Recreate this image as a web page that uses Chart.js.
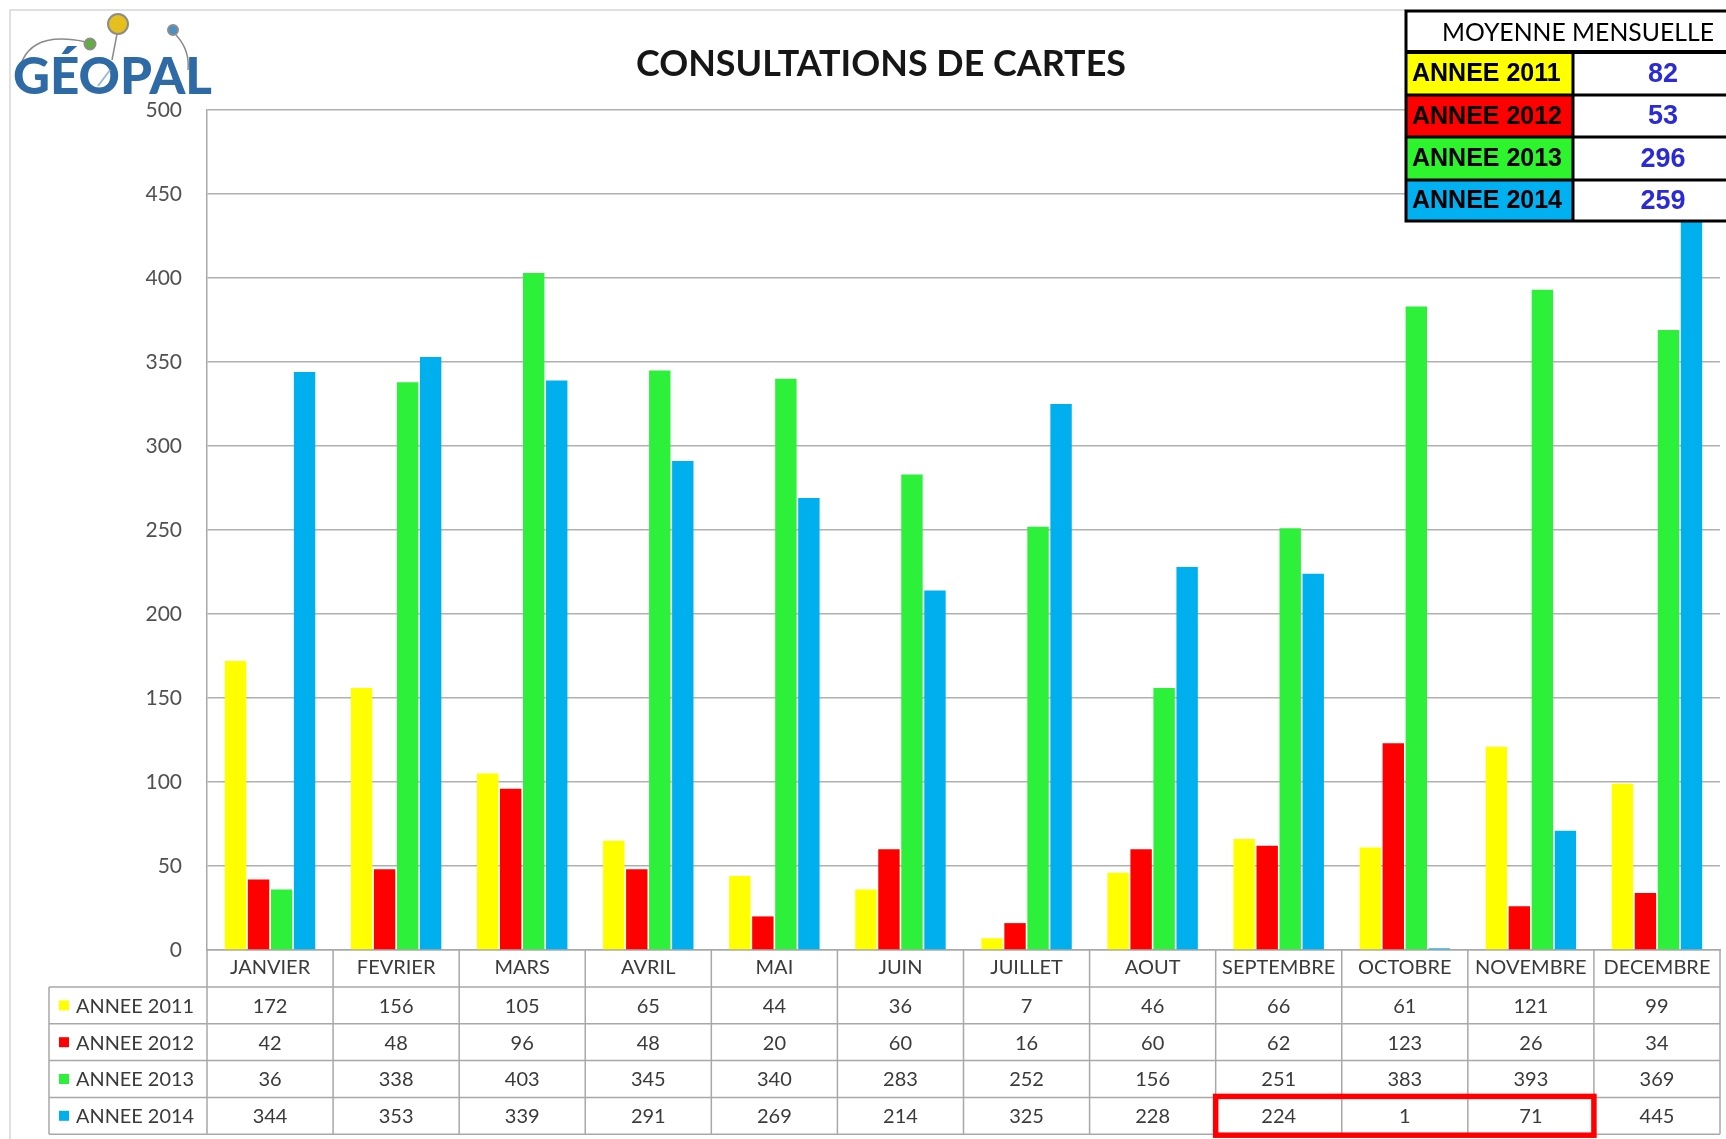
<!DOCTYPE html>
<html>
<head>
<meta charset="utf-8">
<script src="https://cdn.jsdelivr.net/npm/chart.js@4.4.1/dist/chart.umd.min.js"></script>
<style>
  html, body { margin: 0; padding: 0; background: #fff; }
  #wrap { position: relative; width: 1726px; height: 1139px; }
</style>
</head>
<body>
<div id="wrap"><canvas id="chart"></canvas></div>
<script>
const months = ['JANVIER', 'FEVRIER', 'MARS', 'AVRIL', 'MAI', 'JUIN', 'JUILLET', 'AOUT', 'SEPTEMBRE', 'OCTOBRE', 'NOVEMBRE', 'DECEMBRE'];
const seriesNames = ['ANNEE 2011', 'ANNEE 2012', 'ANNEE 2013', 'ANNEE 2014'];
const annee2011 = [172, 156, 105, 65, 44, 36, 7, 46, 66, 61, 121, 99];
const annee2012 = [42, 48, 96, 48, 20, 60, 16, 60, 62, 123, 26, 34];
const annee2013 = [36, 338, 403, 345, 340, 283, 252, 156, 251, 383, 393, 369];
const annee2014 = [344, 353, 339, 291, 269, 214, 325, 228, 224, 1, 71, 445];
const monthlyAverages = [82, 53, 296, 259];
const yTicks = [0, 50, 100, 150, 200, 250, 300, 350, 400, 450, 500];
const highlight = { row: 3, from: 8, to: 10 }; // SEPTEMBRE..NOVEMBRE, 2014

const colors = ['#ffff00', '#ff0000', '#2cf03a', '#00b0ee'];
const legendColors = ['#ffff00', '#ff0000', '#2ef42e', '#00b0f0'];
const FONT = 'Lato, "Open Sans", sans-serif';

// table under the plot, logo, title and the average box
const extras = {
    id: 'extras',
    afterDraw(chart) {
        const ctx = chart.ctx;
        const x = chart.scales.x;
        const area = chart.chartArea;
        const colW = x.width / months.length;
        const headTop = area.bottom;
        const rowH = 36.8;
        const bodyTop = headTop + 37;
        const rows = chart.data.datasets;
        const tableLeft = 49;

        ctx.save();

        // outer frame
        ctx.strokeStyle = '#d6d6d6';
        ctx.lineWidth = 1.5;
        ctx.beginPath();
        ctx.moveTo(10, 1139); ctx.lineTo(10, 10); ctx.lineTo(1406, 10);
        ctx.stroke();

        // table grid
        ctx.strokeStyle = '#a8a8a8';
        ctx.lineWidth = 1.5;
        ctx.beginPath();
        for (let r = 0; r <= rows.length; r++) {
            const y = bodyTop + r * rowH;
            ctx.moveTo(tableLeft, y); ctx.lineTo(x.right, y);
        }
        for (let i = 0; i <= months.length; i++) {
            const xx = x.left + i * colW;
            ctx.moveTo(xx, headTop); ctx.lineTo(xx, bodyTop + rows.length * rowH);
        }
        ctx.moveTo(tableLeft, bodyTop); ctx.lineTo(tableLeft, bodyTop + rows.length * rowH);
        ctx.stroke();

        // table values + legend keys
        ctx.font = '20px ' + FONT;
        ctx.textBaseline = 'middle';
        rows.forEach((ds, r) => {
            const cy = bodyTop + r * rowH + rowH / 2;
            ctx.fillStyle = ds.backgroundColor;
            ctx.fillRect(59, cy - 5, 10, 10);
            ctx.fillStyle = '#3a3a3a';
            ctx.textAlign = 'left';
            ctx.fillText(ds.label, 76, cy + 1, 118);
            ctx.textAlign = 'center';
            ds.data.forEach((v, i) => {
                ctx.fillText(String(v), x.getPixelForValue(i), cy + 1);
            });
        });

        // red highlight box
        ctx.strokeStyle = '#ff0000';
        ctx.lineWidth = 5.5;
        const hx1 = x.getPixelForValue(highlight.from) - colW / 2;
        const hx2 = x.getPixelForValue(highlight.to) + colW / 2;
        const hy = bodyTop + highlight.row * rowH;
        ctx.strokeRect(hx1, hy - 1, hx2 - hx1, rowH + 2);

        // title
        ctx.fillStyle = '#161616';
        ctx.font = 'bold 37px ' + FONT;
        ctx.textAlign = 'center';
        ctx.fillText('CONSULTATIONS DE CARTES', 881, 64, 490);

        // average box (drawn over the plot)
        const bx = 1406, bw = 330, split = 1573;
        const rowYs = [52, 95, 137, 180, 221];
        ctx.fillStyle = '#fff';
        ctx.fillRect(bx, 11, bw, 210);
        ctx.fillStyle = '#000';
        ctx.font = '25px ' + FONT;
        ctx.fillText('MOYENNE MENSUELLE', 1578, 33, 272);
        seriesNames.forEach((name, r) => {
            const y0 = rowYs[r], y1 = rowYs[r + 1];
            ctx.fillStyle = legendColors[r];
            ctx.fillRect(bx, y0, split - bx, y1 - y0);
            ctx.fillStyle = '#000';
            ctx.textAlign = 'left';
            ctx.font = 'bold 25px "Liberation Sans", Arial, sans-serif';
            ctx.fillText(name, 1412, (y0 + y1) / 2 + 1, 150);
            ctx.fillStyle = '#2b2bd6';
            ctx.textAlign = 'center';
            ctx.font = 'bold 27px "Liberation Sans", Arial, sans-serif';
            ctx.fillText(String(monthlyAverages[r]), 1663, (y0 + y1) / 2 + 1);
        });
        ctx.strokeStyle = '#000';
        ctx.lineWidth = 3;
        ctx.beginPath();
        ctx.moveTo(1760, 11); ctx.lineTo(bx, 11); ctx.lineTo(bx, 221); ctx.lineTo(1760, 221);
        rowYs.slice(1, 4).forEach(y => { ctx.moveTo(bx, y); ctx.lineTo(1760, y); });
        ctx.moveTo(split, 52); ctx.lineTo(split, 221);
        ctx.stroke();
        ctx.lineWidth = 4;
        ctx.beginPath();
        ctx.moveTo(bx, 52); ctx.lineTo(1760, 52);
        ctx.stroke();

        // logo
        ctx.strokeStyle = '#8a8a8a';
        ctx.lineWidth = 1.5;
        ctx.beginPath();
        ctx.moveTo(18, 82); ctx.quadraticCurveTo(20, 28, 86, 42);
        ctx.moveTo(117, 34); ctx.lineTo(112, 60);
        ctx.moveTo(176, 35); ctx.quadraticCurveTo(190, 50, 188, 70);
        ctx.stroke();
        ctx.fillStyle = '#2e6aa6';
        ctx.font = '900 52px Lato, "Liberation Sans", Arial, sans-serif';
        ctx.textAlign = 'left';
        ctx.textBaseline = 'alphabetic';
        ctx.fillText('GÉOPAL', 13, 94, 199);
        const dots = [[118, 24, 10, '#e6be1e'], [90, 44, 5.5, '#5fae3e'], [173, 30, 5, '#4d8fc2']];
        dots.forEach(([cx, cy, rr, c]) => {
            ctx.beginPath();
            ctx.arc(cx, cy, rr, 0, Math.PI * 2);
            ctx.fillStyle = c; ctx.fill();
            ctx.strokeStyle = '#8c8c8c'; ctx.lineWidth = 2; ctx.stroke();
        });
        ctx.strokeStyle = '#9fb9d6';
        ctx.lineWidth = 2;
        ctx.beginPath();
        ctx.moveTo(98, 86); ctx.lineTo(110, 70);
        ctx.stroke();

        ctx.restore();
    }
};

const series = [annee2011, annee2012, annee2013, annee2014];

new Chart(document.getElementById('chart'), {
    type: 'bar',
    data: {
        labels: months,
        datasets: series.map((values, i) => ({
            label: seriesNames[i],
            data: values,
            backgroundColor: colors[i],
            borderWidth: 0,
            categoryPercentage: 0.73,
            barPercentage: 0.93
        }))
    },
    options: {
        responsive: true,
        maintainAspectRatio: false,
        animation: false,
        devicePixelRatio: 1,
        layout: { padding: { top: 110, right: 6, bottom: 0, left: 0 } },
        plugins: {
            legend: { display: false },
            title: { display: false },
            tooltip: { enabled: false }
        },
        scales: {
            x: {
                grid: { display: false, drawTicks: false },
                border: { display: true, color: '#a8a8a8', width: 1.5 },
                ticks: { color: '#3a3a3a', font: { family: FONT, size: 20 }, padding: 6, maxRotation: 0, autoSkip: false },
                afterFit: (scale) => { scale.height = 189; }
            },
            y: {
                min: 0, max: 500,
                afterBuildTicks: (scale) => { scale.ticks = yTicks.map(v => ({ value: v })); },
                grid: { color: '#b0b0b0', lineWidth: 1.5, drawTicks: false },
                border: { display: true, color: '#a8a8a8', width: 1.5 },
                ticks: { color: '#505050', font: { family: FONT, size: 21 }, padding: 25 },
                afterFit: (scale) => { scale.width = 207; }
            }
        }
    },
    plugins: [extras]
});
</script>
</body>
</html>
